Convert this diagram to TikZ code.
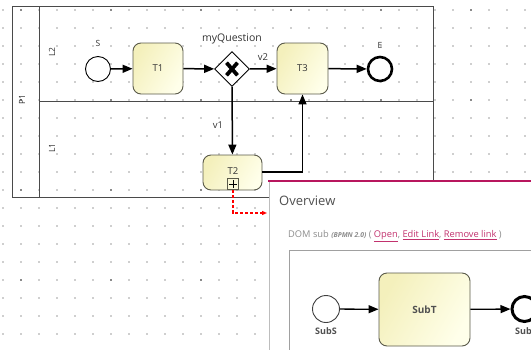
\documentclass[tikz,border=0pt]{standalone}
\usepackage{fontspec}
\setmainfont{Open Sans}
\usetikzlibrary{arrows.meta,shapes.geometric}
\definecolor{dotc}{HTML}{CFCFCF}
\definecolor{dotm}{HTML}{8A8A8A}
\definecolor{poolc}{HTML}{4A4A4A}
\definecolor{taskb}{HTML}{5A5A4A}
\definecolor{tasklight}{HTML}{FFFFEA}
\definecolor{taskdark}{HTML}{F4F0BC}
\definecolor{txt}{HTML}{333333}
\definecolor{crimson}{HTML}{B8165E}
\definecolor{linkc}{HTML}{C2326E}
\definecolor{greytxt}{HTML}{8C8C8C}
\definecolor{ovtxt}{HTML}{505050}
\definecolor{panelb}{HTML}{BDBDBD}
\definecolor{boxb}{HTML}{A0A0A0}
\begin{document}
\begin{tikzpicture}[x=1pt,y=-1pt,
  lbl/.style={font=\fontsize{8.5}{10}\selectfont, text=txt, inner sep=0},
  tasknode/.style={draw=taskb, line width=0.9pt, rounded corners=8pt,
    left color=taskdark, right color=tasklight, shading angle=60,
    font=\fontsize{9.5}{11}\selectfont, text=txt, inner sep=0},
  startev/.style={circle, draw=black, line width=0.9pt, fill=white, minimum size=25pt, inner sep=0},
  endev/.style={circle, draw=black, line width=2.6pt, fill=white, minimum size=24pt, inner sep=0},
  gwnode/.style={diamond, draw=black, line width=0.9pt, fill=white, minimum width=35pt, minimum height=35pt, inner sep=0},
  flow/.style={draw=black, line width=1.5pt, -{Triangle[length=10pt,width=8pt]}},
  poolline/.style={draw=poolc, line width=0.9pt},
  redflow/.style={draw=red, line width=1.2pt, dash pattern=on 3pt off 2pt, -{Triangle[length=5pt,width=4pt]}}
]
\useasboundingbox (0,0) rectangle (531,349);
\clip (0,0) rectangle (531,349);
% grid dots
\foreach \i in {0,...,29} {
  \foreach \j in {0,...,19} {
    \fill[dotc] ({3+18*\i-0.6},{10+18*\j-0.6}) rectangle ++(1.2,1.2);
  }
}
\foreach \i in {0,...,5} {
  \foreach \j in {0,...,3} {
    \fill[dotm] ({21+90*\i-0.7},{10+90*\j-0.7}) rectangle ++(1.4,1.4);
  }
}
% pool and lanes
\draw[poolline] (12,6) rectangle (433,197);
\draw[poolline] (39,6) -- (39,197);
\draw[poolline] (39,101.5) -- (433,101.5);
\node[lbl, rotate=90] (p1) at (22,100) {P1};
\node[lbl, rotate=90] (l2) at (52,52) {L2};
\node[lbl, rotate=90] (l1) at (52,148) {L1};
% elements
\node[startev] (S) at (98,69) {};
\node[lbl] (Slbl) at (98,43.5) {S};
\node[tasknode, minimum width=50pt, minimum height=51pt] (T1) at (158,68.5) {T1};
\node[gwnode] (G) at (232,69) {};
\draw[line width=3.8pt] ([shift={(-5.5,-6.3)}]G.center) -- ([shift={(5.5,6.3)}]G.center);
\draw[line width=3.8pt] ([shift={(-5.5,6.3)}]G.center) -- ([shift={(5.5,-6.3)}]G.center);
\node[lbl, font=\fontsize{10.5}{12}\selectfont] (Glbl) at (232,39) {myQuestion};
\node[tasknode, minimum width=51pt, minimum height=51pt] (T3) at (302.5,68.5) {T3};
\node[endev] (E) at (380,69) {};
\node[lbl] (Elbl) at (380,45.5) {E};
\node[tasknode, minimum width=59pt, minimum height=35pt] (T2) at (232.5,172.5) {};
\node[lbl, font=\fontsize{9.5}{11}\selectfont] (T2lbl) at (233,171) {T2};
\node[draw=taskb, line width=0.8pt, minimum size=11.5pt, inner sep=0] (T2m) at (233,184) {};
\draw[line width=0.8pt] ([xshift=-4pt]T2m.center) -- ([xshift=4pt]T2m.center);
\draw[line width=0.8pt] ([yshift=-4pt]T2m.center) -- ([yshift=4pt]T2m.center);
% flows
\draw[flow] (S) -- (T1);
\draw[flow] (T1) -- (G);
\draw[flow] (G) -- (T3);
\node[lbl, font=\fontsize{9.5}{11}\selectfont] (v2) at (263,57) {v2};
\draw[flow] (T3) -- (E);
\draw[flow] (G) -- (T2);
\node[lbl, font=\fontsize{9.5}{11}\selectfont] (v1) at (218,125) {v1};
\draw[flow] (T2.east |- 0,172) -| (T3.south);
% red dashed link
\coordinate (rdend) at (267,213);
\draw[redflow] (T2m.south) |- (rdend);
% overview panel
\fill[white] (269,180) rectangle (545,360);
\draw[panelb, line width=0.8pt] (269,181) -- (269,360);
\draw[crimson, line width=2.6pt] (268,180.8) -- (545,180.8);
\node[anchor=base west, font=\fontsize{13}{15}\selectfont, text=ovtxt, inner sep=0] (ov) at (279,205) {Overview};
\node[anchor=base west, font=\fontsize{9.3}{11}\selectfont, text=greytxt, inner sep=0] (dom) at (288,237.5)
  {DOM sub {\fontsize{6.8}{8}\selectfont\bfseries\itshape (BPMN 2.0)} ( \textcolor{linkc}{\underline{Open}}, \textcolor{linkc}{\underline{Edit Link}}, \textcolor{linkc}{\underline{Remove link}} )};
\draw[boxb, line width=0.8pt] (289,250) rectangle (560,400);
\node[startev, draw=black!75, minimum size=27pt] (SubS) at (326,309) {};
\node[lbl, font=\fontsize{9}{10}\selectfont\bfseries, text=ovtxt] (SubSlbl) at (326,331) {SubS};
\node[tasknode, minimum width=91pt, minimum height=73pt, font=\fontsize{10}{11}\selectfont\bfseries, text=ovtxt] (SubT) at (424.5,309.5) {SubT};
\node[endev, minimum size=25pt, line width=3pt] (SubE) at (524.5,309) {};
\node[lbl, font=\fontsize{9}{10}\selectfont\bfseries, text=ovtxt] (SubElbl) at (526,331) {SubE};
\draw[flow, line width=1.3pt] (SubS) -- (SubT);
\draw[flow, line width=1.3pt] (SubT) -- (SubE);
\end{tikzpicture}
\end{document}
